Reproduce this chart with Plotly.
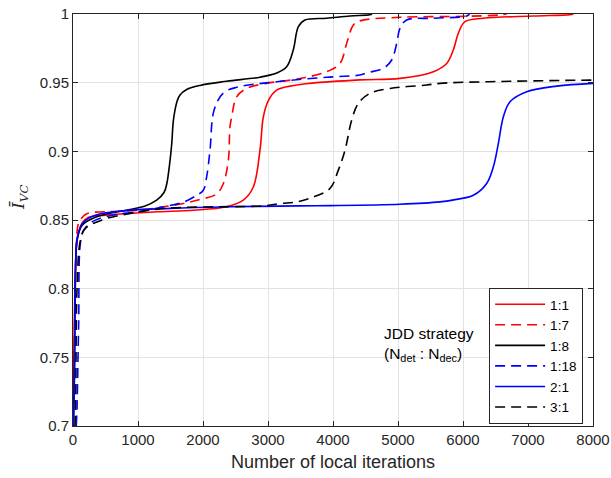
import plotly.graph_objects as go

# ---- data ----
names = ["1:1", "1:7", "1:8", "1:18", "2:1", "3:1"]

x_11 = [0, 15, 25, 36, 62, 100, 138, 241, 500, 826, 1300, 1851, 2364, 2620, 2774, 2877, 2928, 3005, 3133, 3400, 3646, 4415, 5031, 5543, 5749, 5851, 5928, 6031, 6313, 7082, 7646, 7700]
y_11 = [0.70, 0.76, 0.79, 0.811, 0.835, 0.843, 0.8477, 0.8520, 0.8535, 0.8547, 0.856, 0.8571, 0.8596, 0.8644, 0.874, 0.901, 0.925, 0.937, 0.9446, 0.948, 0.9495, 0.952, 0.9531, 0.958, 0.964, 0.9738, 0.986, 0.9944, 0.9969, 0.9985, 0.9995, 1.0]

x_17 = [0, 20, 35, 55, 90, 210, 500, 1000, 1390, 1700, 1903, 2210, 2313, 2390, 2415, 2441, 2518, 2672, 2979, 3492, 3903, 4108, 4210, 4313, 4415, 5031, 6000, 6569, 6672]
y_17 = [0.70, 0.76, 0.80, 0.835, 0.848, 0.8545, 0.8560, 0.857, 0.8596, 0.862, 0.8644, 0.869, 0.8766, 0.8936, 0.9179, 0.925, 0.9397, 0.9458, 0.9495, 0.953, 0.958, 0.964, 0.9786, 0.992, 0.995, 0.9976, 0.9983, 0.9993, 1.0]

x_18 = [0, 15, 26, 36, 62, 138, 343, 857, 1100, 1287, 1400, 1441, 1492, 1518, 1543, 1569, 1605, 1646, 1749, 1954, 2364, 2877, 3133, 3287, 3390, 3467, 3569, 3903, 4262, 4569, 4600]
y_18 = [0.70, 0.72, 0.76, 0.80, 0.835, 0.846, 0.852, 0.8575, 0.860, 0.8644, 0.870, 0.876, 0.893, 0.905, 0.922, 0.930, 0.937, 0.9410, 0.945, 0.948, 0.951, 0.954, 0.957, 0.9616, 0.974, 0.9908, 0.9956, 0.9969, 0.9985, 0.9995, 1.0]

x_118 = [50, 62, 87, 113, 164, 292, 600, 1000, 1390, 1700, 1903, 2005, 2056, 2108, 2170, 2313, 2518, 3133, 3903, 4415, 4518, 4774, 4903, 4980, 5031, 5133, 5543, 6056, 6100]
y_118 = [0.70, 0.714, 0.775, 0.833, 0.8426, 0.8486, 0.8535, 0.856, 0.8596, 0.863, 0.868, 0.8717, 0.8814, 0.9009, 0.930, 0.9425, 0.9466, 0.9507, 0.9539, 0.9556, 0.9572, 0.9604, 0.9665, 0.9786, 0.9896, 0.9956, 0.9969, 0.9985, 1.0]

x_21 = [10, 26, 36, 77, 164, 343, 857, 1500, 2415, 3492, 3954, 5031, 5646, 5900, 6159, 6364, 6467, 6544, 6621, 6723, 6980, 7441, 8000]
y_21 = [0.70, 0.75, 0.811, 0.840, 0.8486, 0.8535, 0.857, 0.8585, 0.8596, 0.8603, 0.8605, 0.8615, 0.8632, 0.8650, 0.868, 0.8766, 0.8887, 0.9058, 0.9252, 0.9361, 0.9434, 0.9475, 0.9495]

x_31 = [30, 40, 62, 113, 190, 446, 900, 1390, 2000, 2928, 3185, 3441, 3697, 3954, 4082, 4185, 4287, 4390, 4569, 4877, 5441, 5646, 6500, 8000]
y_31 = [0.70, 0.714, 0.799, 0.835, 0.8438, 0.850, 0.855, 0.8584, 0.8595, 0.8603, 0.862, 0.8632, 0.8668, 0.873, 0.8863, 0.9009, 0.9227, 0.9349, 0.9422, 0.9458, 0.9483, 0.9495, 0.9508, 0.9519]

xs = [x_11, x_17, x_18, x_118, x_21, x_31]
ys = [y_11, y_17, y_18, y_118, y_21, y_31]
colors = ["#ff0000", "#ff0000", "#000000", "#0000ff", "#0000ff", "#000000"]
dashes = ["solid", "10px,6px", "solid", "10px,6px", "solid", "10px,6px"]

x_ticks = [0, 1000, 2000, 3000, 4000, 5000, 6000, 7000, 8000]
y_ticks = [0.7, 0.75, 0.8, 0.85, 0.9, 0.95, 1]
y_tick_text = ["0.7", "0.75", "0.8", "0.85", "0.9", "0.95", "1"]

FONT = "Liberation Sans, Arial, sans-serif"

fig = go.Figure()
for n, x, y, c, d in zip(names, xs, ys, colors, dashes):
    fig.add_trace(go.Scatter(x=x, y=y, name=n, mode="lines",
                             line=dict(color=c, width=1.6, dash=d, shape="spline", smoothing=1.0)))

axis_common = dict(showline=True, linecolor="#262626", linewidth=1, mirror="ticks",
                   ticks="inside", ticklen=5, tickcolor="#262626", automargin=False,
                   showgrid=True, gridcolor="#e3e3e3", gridwidth=1, zeroline=False,
                   tickfont=dict(family=FONT, size=15, color="#262626"))

fig.update_xaxes(range=[0, 8000], tickvals=x_ticks, **axis_common,
                 title=dict(text="Number of local iterations", font=dict(family=FONT, size=18, color="#262626"), standoff=8))
fig.update_yaxes(range=[0.7, 1.0], tickvals=y_ticks, ticktext=y_tick_text, **axis_common)

fig.add_annotation(xref="paper", yref="paper", x=-0.102, y=0.556, xanchor="center", yanchor="middle",
                   text="<i>I\u0304</i><sub><i>VC</i></sub>", textangle=-90, showarrow=False,
                   font=dict(family="DejaVu Serif, Liberation Serif, serif", size=17, color="#262626"))
fig.add_annotation(xref="paper", yref="paper", x=0.594, y=0.199, xanchor="left", yanchor="middle",
                   text="JDD strategy<br>(N<sub>det</sub> : N<sub>dec</sub>)", align="left", showarrow=False,
                   font=dict(family=FONT, size=15.5, color="#000000"))

fig.update_layout(
    width=611, height=478,
    margin=dict(l=73, r=18, t=14, b=52),
    plot_bgcolor="white", paper_bgcolor="white",
    showlegend=True,
    legend=dict(x=0.981, y=0.335, xanchor="right", yanchor="top",
                bgcolor="white", bordercolor="#262626", borderwidth=1,
                font=dict(family=FONT, size=13.5, color="#000000"),
                tracegroupgap=0, itemwidth=50),
)

fig.write_html("out.html")
